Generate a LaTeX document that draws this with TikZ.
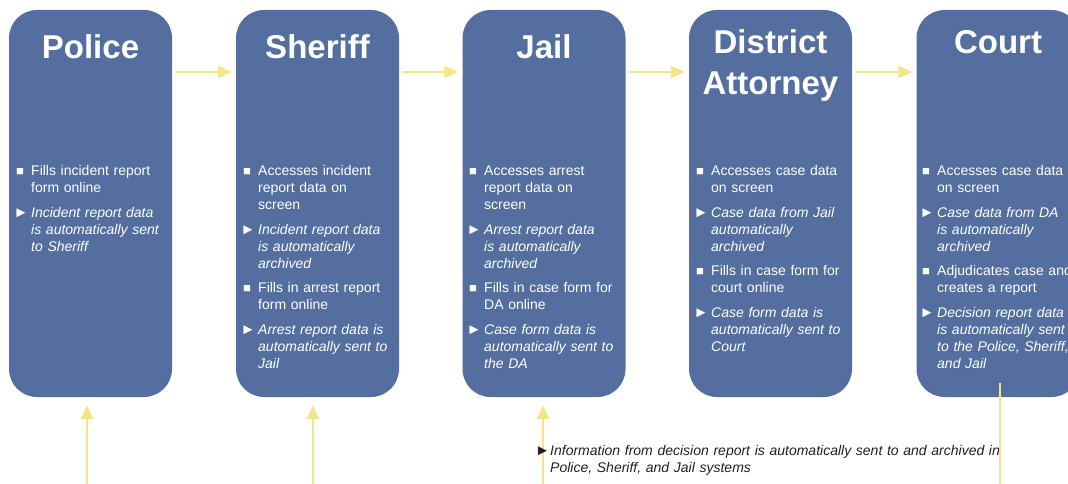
\documentclass[tikz,border=0pt]{standalone}
\usepackage{fontspec}
\setmainfont{Liberation Sans}
\usetikzlibrary{arrows.meta}

\definecolor{boxblue}{HTML}{536E9F}
\definecolor{flowyellow}{HTML}{F4E58A}
\definecolor{notegray}{HTML}{231F20}

\newcommand{\sqitem}[1]{\par\noindent\hangindent=15pt\hangafter=1\makebox[15pt][l]{\fontsize{13}{13}\selectfont\raisebox{0.5pt}{■}}#1}
\newcommand{\triitem}[1]{\par\noindent\hangindent=15pt\hangafter=1\makebox[15pt][l]{\kern-2.5pt\fontsize{15}{15}\selectfont►}\textit{#1}}

\begin{document}
\begin{tikzpicture}[x=1pt,y=-1pt,
    agency/.style={rectangle,rounded corners=28pt,fill=boxblue,minimum width=163pt,minimum height=387pt,inner sep=0pt},
    title/.style={text=white,font=\fontsize{33}{41}\selectfont\bfseries,align=center,anchor=base,inner sep=0pt},
    duties/.style={text=white,font=\fontsize{14}{17}\selectfont\setlength{\parskip}{7.5pt},text width=170pt,align=left,inner sep=0pt,anchor=north west},
    flow/.style={draw=flowyellow,line width=2.5pt,-{Triangle[length=14pt,width=12pt]}}]
    \useasboundingbox (0,0) rectangle (1068,484);

    \node[agency] (police) at (90.5,203.5) {};
    \node[agency] (sheriff) at (317.5,203.5) {};
    \node[agency] (jail) at (544,203.5) {};
    \node[agency] (da) at (770.5,203.5) {};
    \node[agency] (court) at (998,203.5) {};

    \node[title] (policetitle) at (90.5,59) {Police};
    \node[title] (sherifftitle) at (317.5,59) {Sheriff};
    \node[title] (jailtitle) at (544,59) {Jail};
    \node[title] (datitle) at (770.5,95) {District\\Attorney};
    \node[title] (courttitle) at (998,54) {Court};

    \node[duties] (policetext) at (16,151) {%
      \sqitem{Fills incident report\newline form online}
      \triitem{Incident report data\newline is automatically sent\newline to Sheriff}\par};
    \node[duties] (shstrifftext) at (243,151) {%
      \sqitem{Accesses incident\newline report data on\newline screen}
      \triitem{Incident report data\newline is automatically\newline archived}
      \sqitem{Fills in arrest report\newline form online}
      \triitem{Arrest report data is\newline automatically sent to\newline Jail}\par};
    \node[duties] (jailtext) at (469,151) {%
      \sqitem{Accesses arrest\newline report data on\newline screen}
      \triitem{Arrest report data\newline is automatically\newline archived}
      \sqitem{Fills in case form for\newline DA online}
      \triitem{Case form data is\newline automatically sent to\newline the DA}\par};
    \node[duties] (datext) at (696,151) {%
      \sqitem{Accesses case data\newline on screen}
      \triitem{Case data from Jail\newline automatically\newline archived}
      \sqitem{Fills in case form for\newline court online}
      \triitem{Case form data is\newline automatically sent to\newline Court}\par};
    \node[duties] (courttext) at (922,151) {%
      \sqitem{Accesses case data\newline on screen}
      \triitem{Case data from DA\newline is automatically\newline archived}
      \sqitem{Adjudicates case and\newline creates a report}
      \triitem{Decision report data\newline is automatically sent\newline to the Police, Sheriff,\newline and Jail}\par};

    % hand-offs along the top
    \path (police.east |- 0,72) edge[flow,shorten <=3pt,shorten >=4pt] (sheriff.west |- 0,72);
    \path (sheriff.east |- 0,72) edge[flow,shorten <=3pt,shorten >=4pt] (jail.west |- 0,72);
    \path (jail.east |- 0,72) edge[flow,shorten <=3pt,shorten >=4pt] (da.west |- 0,72);
    \path (da.east |- 0,72) edge[flow,shorten <=3pt,shorten >=4pt] (court.west |- 0,72);

    % decision report back to the agencies
    \coordinate (policein) at (87,484);
    \coordinate (sheriffin) at (313,484);
    \coordinate (jailin) at (543,484);
    \coordinate (courtout) at (1000,484);
    \path (policein) edge[flow,shorten >=8pt] (policein |- police.south);
    \path (sheriffin) edge[flow,shorten >=8pt] (sheriffin |- sheriff.south);
    \path (jailin) edge[flow,shorten >=8pt] (jailin |- jail.south);
    \path (courtout |- court.south) edge[draw=flowyellow,line width=2.5pt,shorten <=-14pt] (courtout);

    \node[anchor=north west,inner sep=0pt,text width=480pt,align=left,text=notegray,
      font=\fontsize{14}{17}\selectfont] (decisionnote) at (535,445) {%
      \noindent\hangindent=15pt\hangafter=1\makebox[15pt][l]{\fontsize{15}{15}\selectfont►}\textit{Information from decision report is automatically sent to and archived in\newline Police, Sheriff, and Jail systems}\par};
  \end{tikzpicture}
\end{document}
